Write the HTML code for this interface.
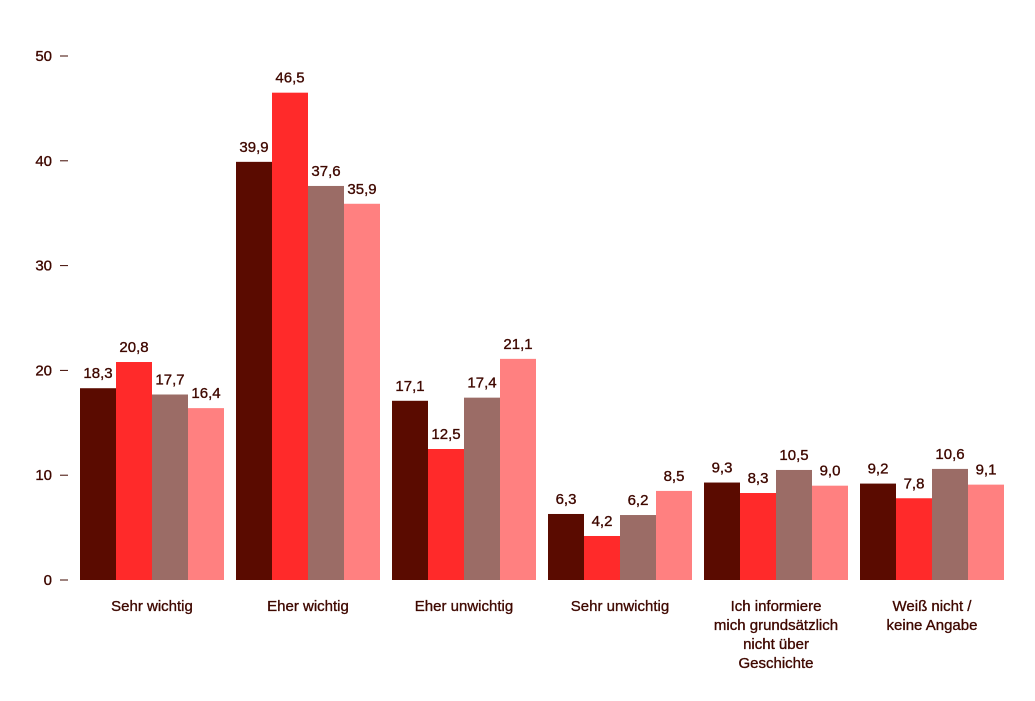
<!DOCTYPE html>
<html><head><meta charset="utf-8"><style>
html,body{margin:0;padding:0;background:#fff;}
svg{display:block;font-family:"Liberation Sans",sans-serif;}
svg text{stroke:#3f0800;stroke-width:0.35;}
</style></head><body>
<svg id="chart" width="1035" height="701" viewBox="0 0 1035 701" xmlns="http://www.w3.org/2000/svg"></svg>
<script>
const categories = [["Sehr wichtig"],["Eher wichtig"],["Eher unwichtig"],["Sehr unwichtig"],["Ich informiere","mich grundsätzlich","nicht über","Geschichte"],["Weiß nicht /","keine Angabe"]];
const series1 = [18.3,39.9,17.1,6.3,9.3,9.2];
const series2 = [20.8,46.5,12.5,4.2,8.3,7.8];
const series3 = [17.7,37.6,17.4,6.2,10.5,10.6];
const series4 = [16.4,35.9,21.1,8.5,9.0,9.1];
const yTicks = [0,10,20,30,40,50];
const colors = ["#5a0b00","#ff2a2a","#9b6c66","#ff8080"];
const NS="http://www.w3.org/2000/svg";
const svg=document.getElementById('chart');
const y0=580, pxPerUnit=104.8/10;
function yScale(v){return y0-v*pxPerUnit;}
function groupX(i){return 80+i*156;}
const barW=36;
function mk(tag,attrs,text){const e=document.createElementNS(NS,tag);for(const k in attrs)e.setAttribute(k,attrs[k]);if(text!==undefined)e.textContent=text;svg.appendChild(e);return e;}
yTicks.forEach(t=>{
  const y=yScale(t);
  const l=mk('text',{x:52,y:y+5,'text-anchor':'end','font-size':15,fill:'#3f0800'},String(t));
  
  
  const d=mk('line',{x1:60,x2:68,y1:y,y2:y,stroke:'#3f0800','stroke-width':1});
  
  
});
const all=[series1,series2,series3,series4];
categories.forEach((cat,i)=>{
  all.forEach((s,j)=>{
    const v=s[i];const x=groupX(i)+j*barW;const y=yScale(v);
    const r=mk('rect',{x:x,y:y,width:barW,height:y0-y,fill:colors[j]});
    
    
    const t=mk('text',{x:x+barW/2,y:y-10,'text-anchor':'middle','font-size':15,fill:'#3f0800'},v.toFixed(1).replace('.',','));
    
    
  });
  const cx=groupX(i)+2*barW;
  cat.forEach((line,k)=>{
    const t=mk('text',{x:cx,y:611+k*19,'text-anchor':'middle','font-size':15,fill:'#3f0800'},line);
    
    
  });
});
</script>
</body></html>
